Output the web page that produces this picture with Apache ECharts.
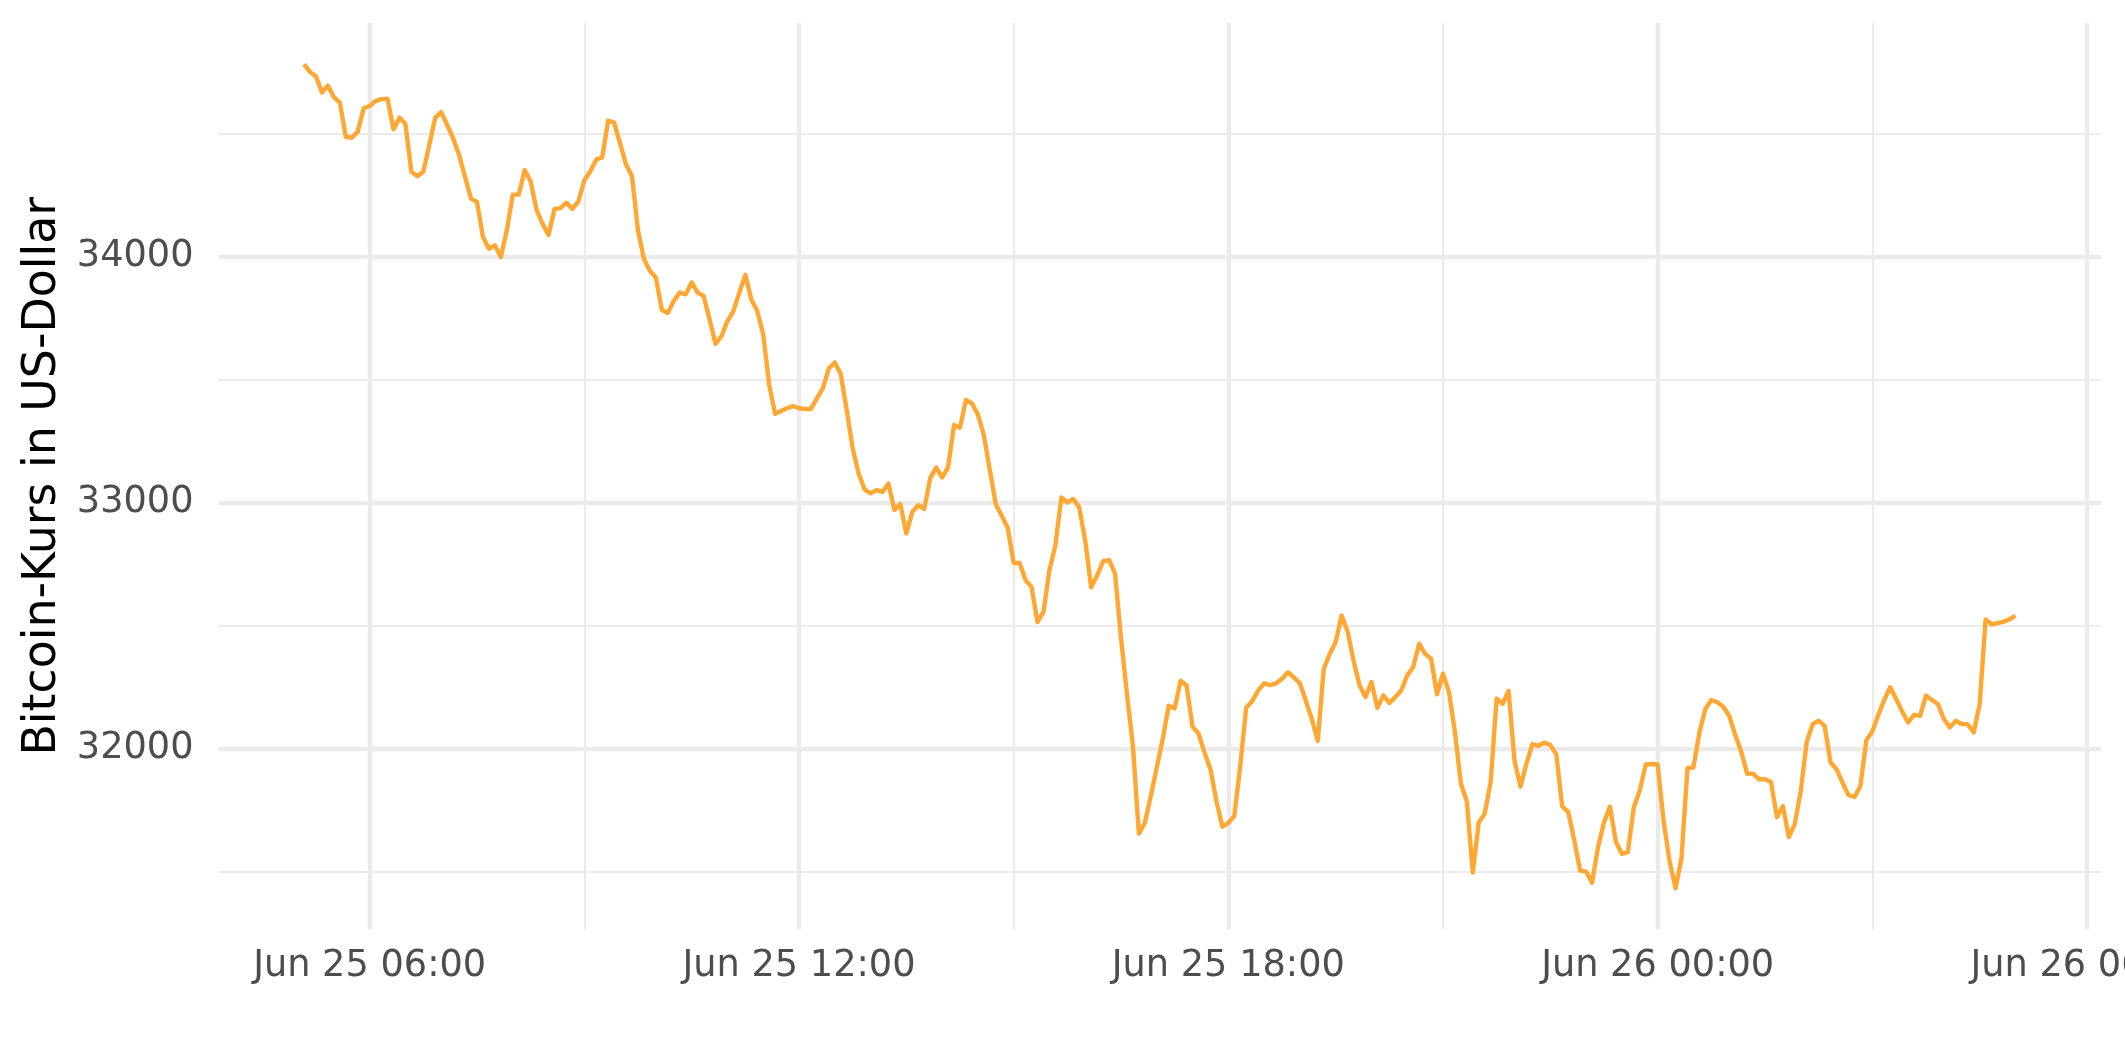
<!DOCTYPE html>
<html>
<head>
<meta charset="utf-8">
<script src="https://cdn.jsdelivr.net/npm/echarts@6/dist/echarts.min.js"></script>
<style>
  html, body { margin: 0; padding: 0; background: #ffffff; }
  #chart { width: 2125px; height: 1062px; }
</style>
</head>
<body>
<div id="chart"></div>
<script>
// ---- data (Bitcoin price, 5-minute samples, UTC) ----
const firstSample = '2021-06-25T05:05:00Z';
const sampleMinutes = 5;
const prices = [
  34781, 34749, 34731, 34666, 34694, 34647, 34625, 34486, 34482, 34507,
  34602, 34611, 34632, 34639, 34640, 34516, 34564, 34538, 34344, 34326,
  34344, 34453, 34564, 34586, 34534, 34480, 34412, 34323, 34235, 34221,
  34079, 34031, 34045, 33997, 34106, 34251, 34251, 34351, 34303, 34188,
  34132, 34087, 34193, 34196, 34218, 34193, 34223, 34309, 34346, 34394,
  34402, 34552, 34544, 34459, 34373, 34326, 34105, 33989, 33941, 33914,
  33782, 33770, 33819, 33853, 33846, 33894, 33853, 33839, 33744, 33644,
  33676, 33737, 33778, 33853, 33925, 33826, 33778, 33683, 33478, 33360,
  33372, 33383, 33392, 33383, 33380, 33380, 33423, 33464, 33545, 33569,
  33522, 33376, 33220, 33118, 33053, 33037, 33050, 33043, 33077, 32969,
  32993, 32874, 32962, 32989, 32973, 33098, 33142, 33102, 33142, 33315,
  33304, 33417, 33403, 33358, 33274, 33132, 32993, 32946, 32897, 32754,
  32754, 32684, 32657, 32514, 32555, 32725, 32826, 33020, 33000, 33014,
  32980, 32845, 32655, 32703, 32761, 32766, 32712, 32450, 32221, 32011,
  31654, 31698, 31807, 31923, 32038, 32174, 32163, 32276, 32255, 32088,
  32061, 31984, 31916, 31787, 31682, 31698, 31726, 31929, 32167, 32192,
  32235, 32265, 32258, 32265, 32283, 32310, 32289, 32265, 32194, 32120,
  32031, 32323, 32384, 32432, 32541, 32476, 32358, 32257, 32209, 32270,
  32165, 32216, 32185, 32209, 32236, 32297, 32331, 32426, 32385, 32365,
  32220, 32304, 32230, 32068, 31858, 31784, 31496, 31699, 31736, 31865,
  32203, 32182, 32234, 31950, 31845, 31939, 32018, 32011, 32024, 32014,
  31977, 31764, 31743, 31628, 31504, 31500, 31455, 31599, 31699, 31764,
  31621, 31572, 31580, 31760, 31830, 31935, 31937, 31935, 31705, 31541,
  31432, 31554, 31920, 31923, 32065, 32160, 32197, 32188, 32170, 32133,
  32056, 31988, 31898, 31898, 31875, 31875, 31865, 31721, 31766, 31640,
  31694, 31827, 32027, 32099, 32113, 32092, 31943, 31916, 31861, 31811,
  31803, 31848, 32034, 32069, 32136, 32197, 32249, 32201, 32151, 32106,
  32137, 32133, 32215, 32197, 32181, 32120, 32086, 32113, 32099, 32099,
  32065, 32180, 32525, 32505, 32510, 32515, 32525, 32540
];
const xMajorTicks = ['2021-06-25T06:00:00Z', '2021-06-25T12:00:00Z', '2021-06-25T18:00:00Z',
                     '2021-06-26T00:00:00Z', '2021-06-26T06:00:00Z'];
const xMinorTicks = ['2021-06-25T09:00:00Z', '2021-06-25T15:00:00Z',
                     '2021-06-25T21:00:00Z', '2021-06-26T03:00:00Z'];
const yMajorTicks = [32000, 33000, 34000];
const yMinorTicks = [31500, 32500, 33500, 34500];
const yTitle = 'Bitcoin-Kurs in US-Dollar';
const monthNames = ['Jan','Feb','Mar','Apr','May','Jun','Jul','Aug','Sep','Oct','Nov','Dec'];

// ---- build ----
const t0 = Date.parse(firstSample);
const seriesData = prices.map((p, i) => [t0 + i * sampleMinutes * 60000, p]);
const tMin = seriesData[0][0], tMax = seriesData[seriesData.length - 1][0];
const tPad = (tMax - tMin) * 0.05;
const pMin = Math.min(...prices), pMax = Math.max(...prices);
const pPad = (pMax - pMin) * 0.05;
const xRange = [tMin - tPad, tMax + tPad];
const yRange = [pMin - pPad, pMax + pPad];

function pad2(n) { return (n < 10 ? '0' : '') + n; }
function fmtTime(v) {
  const d = new Date(v);
  return monthNames[d.getUTCMonth()] + ' ' + pad2(d.getUTCDate()) + ' ' +
         pad2(d.getUTCHours()) + ':' + pad2(d.getUTCMinutes());
}

const gridColor = '#EBEBEB';
const font = 'DejaVu Sans';

const chart = echarts.init(document.getElementById('chart'), null, { renderer: 'canvas' });
chart.setOption({
  animation: false,
  backgroundColor: '#ffffff',
  grid: { left: 218.5, right: 24, top: 23, bottom: 132.5, containLabel: false, outerBoundsMode: 'none' },
  xAxis: [
    {
      type: 'value', min: xRange[0], max: xRange[1],
      axisLine: { show: false }, axisTick: { show: false, customValues: xMajorTicks.map(Date.parse) },
      axisLabel: {
        customValues: xMajorTicks.map(Date.parse),
        formatter: (v) => fmtTime(v),
        color: '#4D4D4D', fontFamily: font, fontSize: 36.7, margin: 18,
        hideOverlap: false
      },
      splitLine: { show: true, lineStyle: { color: gridColor, width: 4.4 } }
    },
    {
      type: 'value', min: xRange[0], max: xRange[1], position: 'bottom',
      axisLine: { show: false }, axisTick: { show: false, customValues: xMinorTicks.map(Date.parse) },
      axisLabel: { show: false, customValues: xMinorTicks.map(Date.parse) },
      splitLine: { show: true, lineStyle: { color: gridColor, width: 2.2 } }
    }
  ],
  yAxis: [
    {
      type: 'value', min: yRange[0], max: yRange[1],
      name: yTitle, nameLocation: 'middle', nameGap: 142, nameRotate: 90,
      nameTextStyle: { color: '#000000', fontFamily: font, fontSize: 45.8 },
      axisLine: { show: false }, axisTick: { show: false, customValues: yMajorTicks },
      axisLabel: {
        customValues: yMajorTicks,
        formatter: (v) => String(Math.round(v)),
        color: '#4D4D4D', fontFamily: font, fontSize: 36.7, margin: 25
      },
      splitLine: { show: true, lineStyle: { color: gridColor, width: 4.4 } }
    },
    {
      type: 'value', min: yRange[0], max: yRange[1], position: 'left',
      axisLine: { show: false }, axisTick: { show: false, customValues: yMinorTicks },
      axisLabel: { show: false, customValues: yMinorTicks },
      splitLine: { show: true, lineStyle: { color: gridColor, width: 2.2 } }
    }
  ],
  series: [{
    type: 'line',
    xAxisIndex: 0, yAxisIndex: 0,
    data: seriesData,
    showSymbol: false,
    symbol: 'none',
    lineStyle: { color: '#FFA733', width: 4.4, join: 'round' },
    z: 10
  }]
});
</script>
</body>
</html>
